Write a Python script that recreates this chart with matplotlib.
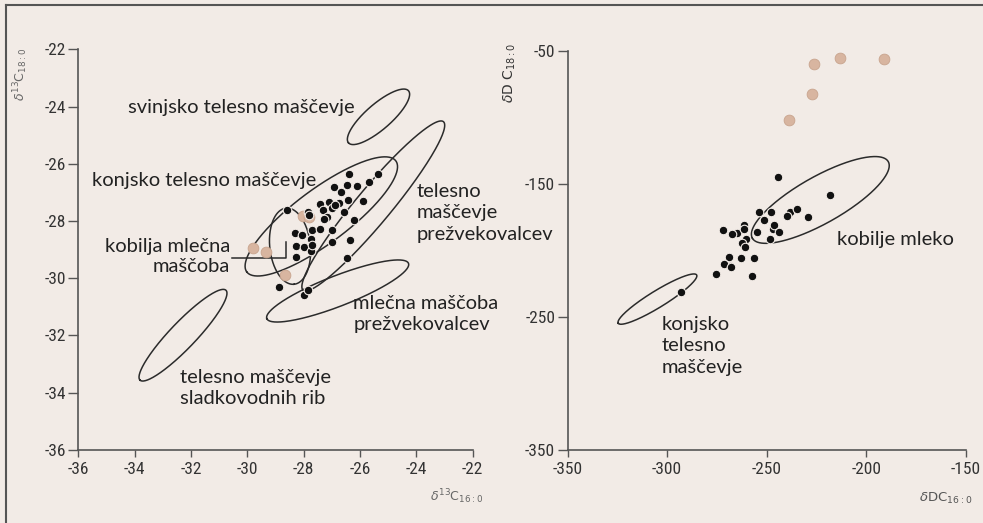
import numpy as np
import matplotlib
matplotlib.use('Agg')
import matplotlib.pyplot as plt
from matplotlib import font_manager
from matplotlib.lines import Line2D

available = {f.name for f in font_manager.fontManager.ttflist}
tick_font = next((f for f in ['Liberation Sans Narrow', 'Roboto Condensed', 'Noto Sans']
                  if f in available), 'DejaVu Sans')
label_font = next((f for f in ['Lato', 'Open Sans', 'Noto Sans'] if f in available), 'DejaVu Sans')

bg = '#f2ebe6'

# --- left panel: d13C 16:0 vs d13C 18:0 ---
c_black_x = [-26.38, -25.37, -26.91, -26.45, -26.12, -25.67, -26.67, -26.73, -26.42, -25.88,
             -27.41, -27.09, -27.30, -27.00, -26.56, -27.86, -27.18, -27.28, -26.20, -28.58,
             -27.71, -27.42, -26.98, -28.31, -28.07, -27.74, -26.98, -26.35, -28.27, -27.99,
             -27.74, -28.27, -26.47, -28.86, -27.99, -27.84, -27.81, -27.70, -26.90]
c_black_y = [-26.36, -26.36, -26.80, -26.74, -26.77, -26.62, -26.98, -27.38, -27.27, -27.29,
             -27.41, -27.33, -27.62, -27.56, -27.69, -27.68, -27.87, -27.93, -27.98, -27.62,
             -28.32, -28.27, -28.33, -28.41, -28.49, -28.63, -28.74, -28.67, -28.88, -28.90,
             -29.04, -29.25, -29.30, -30.30, -30.57, -30.42, -27.79, -28.85, -27.45]
c_peach_x = [-29.81, -29.34, -28.66, -28.03, -27.80]
c_peach_y = [-28.96, -29.09, -29.89, -27.83, -27.87]

# ellipses: ends of the long axis and short/long ratio
c_ell_names = ['svinjsko', 'prezvekovalci telo', 'konjsko', 'kobilja', 'prezvekovalci mleko', 'ribe']
c_ell_p1 = [(-24.28, -23.45), (-23.04, -24.53), (-24.73, -25.90), (-28.63, -27.55), (-24.28, -29.48), (-30.76, -30.42)]
c_ell_p2 = [(-26.41, -25.27), (-28.02, -30.42), (-30.02, -29.78), (-28.34, -30.21), (-29.31, -31.41), (-33.81, -33.56)]
c_ell_ratio = [0.32, 0.16, 0.29, 0.53, 0.20, 0.21]

c_ticks = [-36, -34, -32, -30, -28, -26, -24, -22]

# --- right panel: dD 16:0 vs dD 18:0 ---
d_black_x = [-261.4, -238.3, -265.1, -246.6, -268.4,
             -244.1, -218.2, -253.9, -247.8, -251.3, -246.3, -239.6, -234.6, -229.1, -243.6,
             -248.3, -254.7, -271.8, -267.6, -261.4, -260.4, -262.6, -260.9, -268.8, -262.9,
             -256.4, -271.4, -268.1, -275.5, -257.4, -293.0]
d_black_y = [-180.8, -170.8, -187.1, -184.1, -211.7,
             -144.5, -158.3, -170.8, -170.8, -177.1, -180.8, -174.1, -168.5, -174.8, -186.1,
             -191.1, -186.3, -184.6, -187.8, -184.1, -191.6, -194.6, -197.6, -205.1, -205.4,
             -205.4, -210.4, -212.2, -217.9, -219.2, -231.0]
d_peach_x = [-226.2, -213.1, -190.9, -227.2, -238.6]
d_peach_y = [-59.8, -55.5, -56.0, -82.3, -101.9]

d_ell_p1 = [(-188.9, -133.2), (-285.2, -218.4)]
d_ell_p2 = [(-257.2, -190.8), (-324.6, -254.7)]
d_ell_ratio = [0.30, 0.18]

d_xticks = [-350, -300, -250, -200, -150]
d_yticks = [-350, -250, -150, -50]


def scales(ax):
    x0, x1 = ax.get_xlim()
    y0, y1 = ax.get_ylim()
    return ax.bbox.width / (x1 - x0), ax.bbox.height / (y1 - y0)


def ellipse_xy(ax, p1, p2, ratio, n=300):
    # build the ellipse in screen proportions so it is not sheared
    sx, sy = scales(ax)
    a = np.array([p1[0] * sx, p1[1] * sy])
    b = np.array([p2[0] * sx, p2[1] * sy])
    c = (a + b) / 2
    d = (b - a) / 2
    perp = np.array([-d[1], d[0]]) * ratio
    t = np.linspace(0, 2 * np.pi, n)
    pts = c[:, None] + np.outer(d, np.cos(t)) + np.outer(perp, np.sin(t))
    return pts[0] / sx, pts[1] / sy


def label_lines(ax, x, y, lines, ha='left', step=21.5):
    # one text per line, first line centred on (x, y)
    sx, sy = scales(ax)
    for i, s in enumerate(lines):
        ax.text(x, y - i * step / sy, s, va='center', ha=ha, fontsize=14.5,
                fontfamily=label_font, color='#222222')


def style_axes(ax, xt, yt):
    ax.set_facecolor(bg)
    for s in ['top', 'right']:
        ax.spines[s].set_visible(False)
    for s in ['left', 'bottom']:
        ax.spines[s].set_color('#555555')
        ax.spines[s].set_linewidth(1.2)
    ax.set_xticks(xt)
    ax.set_yticks(yt)
    ax.set_xticklabels([str(v) for v in xt], fontfamily=tick_font, fontsize=12.5, color='#333333')
    ax.set_yticklabels([str(v) for v in yt], fontfamily=tick_font, fontsize=12.5, color='#333333')
    ax.tick_params(axis='x', direction='out', length=5, width=1, color='#555555', pad=4)
    ax.tick_params(axis='y', direction='out', length=7, width=1, color='#555555', pad=2)


fig = plt.figure(figsize=(9.83, 5.23), dpi=100, facecolor=bg)
ax1 = fig.add_axes([0.0797, 0.1396, 0.4012, 0.7662])
ax2 = fig.add_axes([0.5775, 0.1396, 0.4049, 0.7629])

ax1.set_xlim(-36, -22)
ax1.set_ylim(-36, -22)
ax2.set_xlim(-350, -150)
ax2.set_ylim(-350, -50)
style_axes(ax1, c_ticks, c_ticks)
style_axes(ax2, d_xticks, d_yticks)

ell_kw = dict(color='#2b2b2b', lw=1.1, zorder=2)
for p1, p2, r in zip(c_ell_p1, c_ell_p2, c_ell_ratio):
    ex, ey = ellipse_xy(ax1, p1, p2, r)
    ax1.plot(ex, ey, **ell_kw)
for p1, p2, r in zip(d_ell_p1, d_ell_p2, d_ell_ratio):
    ex, ey = ellipse_xy(ax2, p1, p2, r)
    ax2.plot(ex, ey, **ell_kw)

peach_kw = dict(s=60, color='#d8b5a0', edgecolors='#c8a48e', linewidths=0.6, zorder=3, clip_on=False)
black_kw = dict(s=38, color='#111111', edgecolors=bg, linewidths=0.8, zorder=4, clip_on=False)
ax1.scatter(c_peach_x, c_peach_y, **peach_kw)
ax1.scatter(c_black_x, c_black_y, **black_kw)
ax2.scatter(d_peach_x, d_peach_y, **peach_kw)
ax2.scatter(d_black_x, d_black_y, **black_kw)

# bracket for the mare milk label
ax1.plot([-30.55, -28.63, -28.63], [-29.29, -29.29, -28.73], color='#2b2b2b', lw=1.1, zorder=2)

label_lines(ax1, -34.22, -24.02, ['svinjsko telesno maščevje'])
label_lines(ax1, -35.52, -26.57, ['konjsko telesno maščevje'])
label_lines(ax1, -30.62, -28.90, ['kobilja mlečna', 'maščoba'], ha='right', step=20)
label_lines(ax1, -23.99, -26.96, ['telesno', 'maščevje', 'prežvekovalcev'])
label_lines(ax1, -26.24, -30.88, ['mlečna maščoba', 'prežvekovalcev'])
label_lines(ax1, -32.39, -33.45, ['telesno maščevje', 'sladkovodnih rib'])

label_lines(ax2, -214.8, -192.1, ['kobilje mleko'])
label_lines(ax2, -302.8, -255.5, ['konjsko', 'telesno', 'maščevje'])

# axis titles
fig.text(21 / 983, 1 - 74 / 523, r'$\delta^{13}$C$_{18:0}$', rotation=90, ha='center', va='center',
         fontsize=9, color='#666666')
fig.text(457 / 983, 1 - 497 / 523, r'$\delta^{13}$C$_{16:0}$', ha='center', va='center',
         fontsize=9, color='#666666')
fig.text(510 / 983, 1 - 73 / 523, r'$\delta$D C$_{18:0}$', rotation=90, ha='center', va='center',
         fontsize=10, color='#333333')
fig.text(946 / 983, 1 - 498 / 523, r'$\delta$DC$_{16:0}$', ha='center', va='center',
         fontsize=9.5, color='#555555')

# outer frame (top and left edges)
fig.add_artist(Line2D([5.5 / 983, 5.5 / 983], [0, 1 - 5 / 523], color='#555555', lw=1.5))
fig.add_artist(Line2D([5.5 / 983, 1], [1 - 5 / 523, 1 - 5 / 523], color='#555555', lw=1.5))

fig.savefig('out.png', dpi=100, facecolor=bg)
